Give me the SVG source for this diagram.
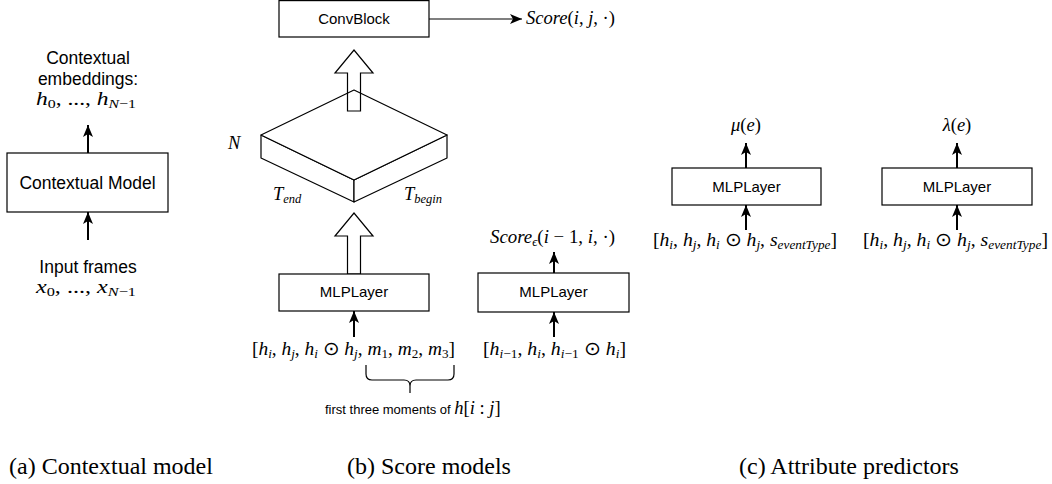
<svg xmlns="http://www.w3.org/2000/svg" width="1052" height="484" viewBox="0 0 1052 484">
  <style>
    .box { fill: #ffffff; stroke: #000000; stroke-width: 1.2; }
    .iso { fill: #ffffff; stroke: #000000; stroke-width: 1.2; stroke-linejoin: round; }
    .hollow { fill: none; stroke: #000000; stroke-width: 1.2; stroke-linejoin: miter; }
    .wire { fill: none; stroke: #000000; stroke-width: 2; }
    .thin { fill: none; stroke: #000000; stroke-width: 1.2; }
    .lbl { font-family: "Liberation Sans", Arial, Helvetica, sans-serif; font-size: 15px; fill: #000000; text-anchor: middle; }
    .lbl-a { font-family: "Liberation Sans", Arial, Helvetica, sans-serif; font-size: 17.5px; fill: #000000; text-anchor: middle; }
    .note { font-family: "Liberation Sans", Arial, Helvetica, sans-serif; font-size: 13px; fill: #000000; }
    .m { font-family: "Liberation Serif", "Times New Roman", serif; font-style: italic; font-size: 18.5px; fill: #000000; }
    .u { font-style: normal; }
    .s { font-size: 12.5px; }
    .cap { font-family: "Liberation Serif", "Times New Roman", serif; font-size: 24px; fill: #000000; }
  </style>
  <defs>
    <marker id="head" viewBox="0 0 12 10" refX="12" refY="5" markerWidth="12" markerHeight="10" markerUnits="userSpaceOnUse" orient="auto">
      <path d="M0,0 L12,5 L0,10 L3,5 Z" fill="#000000"/>
    </marker>
  </defs>

  <!-- connectors -->
  <g id="connectors">
    <line class="wire" x1="88" y1="153" x2="88" y2="125" marker-end="url(#head)"/>
    <line class="wire" x1="88" y1="240" x2="88" y2="212" marker-end="url(#head)"/>
    <line class="thin" x1="429" y1="19" x2="522" y2="19" marker-end="url(#head)"/>
    <line class="wire" x1="354" y1="337" x2="354" y2="311" marker-end="url(#head)"/>
    <line class="wire" x1="554" y1="273" x2="554" y2="252" marker-end="url(#head)"/>
    <line class="wire" x1="554" y1="337" x2="554" y2="312" marker-end="url(#head)"/>
    <line class="wire" x1="746" y1="168" x2="746" y2="143" marker-end="url(#head)"/>
    <line class="wire" x1="746" y1="230" x2="746" y2="205" marker-end="url(#head)"/>
    <line class="wire" x1="957" y1="168" x2="957" y2="143" marker-end="url(#head)"/>
    <line class="wire" x1="957" y1="230" x2="957" y2="205" marker-end="url(#head)"/>
  </g>

  <!-- (a) contextual model -->
  <g id="contextual-output">
    <text class="lbl-a" x="88" y="64">Contextual</text>
    <text class="lbl-a" x="88" y="85">embeddings:</text>
    <text class="m" x="86" y="105" text-anchor="middle" textLength="100" lengthAdjust="spacingAndGlyphs">h<tspan class="s u" dy="3">0</tspan><tspan class="u" dy="-3">, ..., </tspan>h<tspan class="s" dy="3">N</tspan><tspan class="s u">−1</tspan></text>
  </g>
  <g id="contextual-model">
    <rect class="box" x="7" y="153" width="161" height="59"/>
    <text class="lbl-a" x="87.5" y="189">Contextual Model</text>
  </g>
  <g id="input-frames">
    <text class="lbl-a" x="88" y="273">Input frames</text>
    <text class="m" x="86" y="293" text-anchor="middle" textLength="100" lengthAdjust="spacingAndGlyphs">x<tspan class="s u" dy="3">0</tspan><tspan class="u" dy="-3">, ..., </tspan>x<tspan class="s" dy="3">N</tspan><tspan class="s u">−1</tspan></text>
  </g>

  <!-- (b) score models -->
  <g id="convblock">
    <rect class="box" x="279" y="0.6" width="150" height="36.4"/>
    <text class="lbl" x="354" y="24">ConvBlock</text>
  </g>
  <g id="score-out">
    <text class="m" x="526" y="24" textLength="89" lengthAdjust="spacingAndGlyphs">Score<tspan class="u">(</tspan>i<tspan class="u">, </tspan>j<tspan class="u">, ·)</tspan></text>
  </g>
  <g id="score-tensor">
    <polygon class="iso" points="261,135 354,180 354,202 261,158"/>
    <polygon class="iso" points="354,180 447,135 447,158 354,202"/>
    <polygon class="iso" points="354,90 447,135 354,180 261,135"/>
    <text class="m" x="228" y="149">N</text>
    <text class="m" x="273" y="200">T<tspan class="s" dy="3">end</tspan></text>
    <text class="m" x="404" y="200">T<tspan class="s" dy="3">begin</tspan></text>
  </g>
  <g id="lift-arrows">
    <polygon class="hollow" points="347.5,111 347.5,73 335,73 354,50 373,73 360.5,73 360.5,111"/>
    <polygon class="hollow" points="347.5,274 347.5,236 335,236 354,213 373,236 360.5,236 360.5,274"/>
  </g>
  <g id="mlp-span">
    <rect class="box" x="279" y="274" width="150" height="37"/>
    <text class="lbl" x="354" y="297">MLPLayer</text>
    <text class="m" x="353.5" y="355" text-anchor="middle" textLength="203" lengthAdjust="spacingAndGlyphs"><tspan class="u">[</tspan>h<tspan class="s" dy="3">i</tspan><tspan class="u" dy="-3">, </tspan>h<tspan class="s" dy="3">j</tspan><tspan class="u" dy="-3">, </tspan>h<tspan class="s" dy="3">i</tspan><tspan class="u" dy="-3"> ⊙ </tspan>h<tspan class="s" dy="3">j</tspan><tspan class="u" dy="-3">, </tspan>m<tspan class="s u" dy="3">1</tspan><tspan class="u" dy="-3">, </tspan>m<tspan class="s u" dy="3">2</tspan><tspan class="u" dy="-3">, </tspan>m<tspan class="s u" dy="3">3</tspan><tspan class="u" dy="-3">]</tspan></text>
    <path class="thin" d="M366,365 V374 Q366,380 372,380 H404 Q410,380 410,386 V393 M410,386 Q410,380 416,380 H448 Q454,380 454,374 V365"/>
    <text x="325" y="414"><tspan class="note">first three moments of </tspan><tspan class="m" font-size="17">h<tspan class="u">[</tspan>i<tspan class="u"> : </tspan>j<tspan class="u">]</tspan></tspan></text>
  </g>
  <g id="mlp-edge">
    <text class="m" x="552.5" y="243" text-anchor="middle" textLength="125" lengthAdjust="spacingAndGlyphs">Score<tspan class="s" dy="3">ϵ</tspan><tspan class="u" dy="-3">(</tspan>i<tspan class="u"> − 1, </tspan>i<tspan class="u">, ·)</tspan></text>
    <rect class="box" x="478" y="273" width="151" height="39"/>
    <text class="lbl" x="553.5" y="297">MLPLayer</text>
    <text class="m" x="554.5" y="355" text-anchor="middle" textLength="143" lengthAdjust="spacingAndGlyphs"><tspan class="u">[</tspan>h<tspan class="s" dy="3">i</tspan><tspan class="s u">−1</tspan><tspan class="u" dy="-3">, </tspan>h<tspan class="s" dy="3">i</tspan><tspan class="u" dy="-3">, </tspan>h<tspan class="s" dy="3">i</tspan><tspan class="s u">−1</tspan><tspan class="u" dy="-3"> ⊙ </tspan>h<tspan class="s" dy="3">i</tspan><tspan class="u" dy="-3">]</tspan></text>
  </g>

  <!-- (c) attribute predictors -->
  <g id="mlp-mu">
    <text class="m" x="746" y="131" text-anchor="middle">μ<tspan class="u">(</tspan>e<tspan class="u">)</tspan></text>
    <rect class="box" x="672" y="168" width="149" height="37"/>
    <text class="lbl" x="746.5" y="192">MLPLayer</text>
    <text class="m" x="745" y="246" text-anchor="middle" textLength="184" lengthAdjust="spacingAndGlyphs"><tspan class="u">[</tspan>h<tspan class="s" dy="3">i</tspan><tspan class="u" dy="-3">, </tspan>h<tspan class="s" dy="3">j</tspan><tspan class="u" dy="-3">, </tspan>h<tspan class="s" dy="3">i</tspan><tspan class="u" dy="-3"> ⊙ </tspan>h<tspan class="s" dy="3">j</tspan><tspan class="u" dy="-3">, </tspan>s<tspan class="s" dy="3">eventType</tspan><tspan class="u" dy="-3">]</tspan></text>
  </g>
  <g id="mlp-lambda">
    <text class="m" x="957" y="131" text-anchor="middle">λ<tspan class="u">(</tspan>e<tspan class="u">)</tspan></text>
    <rect class="box" x="882" y="168" width="150" height="37"/>
    <text class="lbl" x="957" y="192">MLPLayer</text>
    <text class="m" x="955.5" y="246" text-anchor="middle" textLength="185" lengthAdjust="spacingAndGlyphs"><tspan class="u">[</tspan>h<tspan class="s" dy="3">i</tspan><tspan class="u" dy="-3">, </tspan>h<tspan class="s" dy="3">j</tspan><tspan class="u" dy="-3">, </tspan>h<tspan class="s" dy="3">i</tspan><tspan class="u" dy="-3"> ⊙ </tspan>h<tspan class="s" dy="3">j</tspan><tspan class="u" dy="-3">, </tspan>s<tspan class="s" dy="3">eventType</tspan><tspan class="u" dy="-3">]</tspan></text>
  </g>

  <!-- captions -->
  <text class="cap" x="9" y="474">(a) Contextual model</text>
  <text class="cap" x="347" y="474">(b) Score models</text>
  <text class="cap" x="739" y="474">(c) Attribute predictors</text>
</svg>
